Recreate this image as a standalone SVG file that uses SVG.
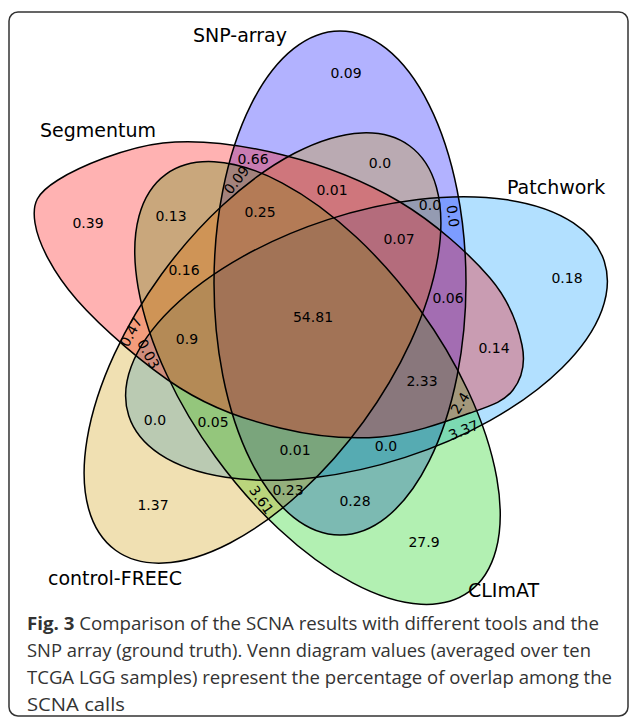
<svg xmlns="http://www.w3.org/2000/svg" xmlns:xlink="http://www.w3.org/1999/xlink" width="630" height="724" viewBox="0 0 630 724">
<style>
.set{stroke:none;fill-opacity:0.3}
.out{fill:none;stroke:#000;stroke-width:1.5}
.lab{font-family:"DejaVu Sans",Verdana,sans-serif;font-size:19px;fill:#000}
.v{font-family:"DejaVu Sans",Verdana,sans-serif;font-size:14px;fill:#000;text-anchor:middle}
.cap{font-family:"Open Sans","Noto Sans",sans-serif;font-size:18px;fill:#333}
</style>
<defs>
<ellipse id="eL" cx="0" cy="0" rx="250" ry="125" transform="translate(366.5 338.5) rotate(-18)"/>
<ellipse id="eB" cx="340" cy="283" rx="126" ry="252"/>
<ellipse id="eG" cx="0" cy="0" rx="258" ry="126" transform="translate(317.5 383) rotate(54)"/>
<ellipse id="eY" cx="0" cy="0" rx="250" ry="125" transform="translate(262.5 348) rotate(126)"/>
<path id="eP" d="M35,223 C38.17,243 52.83,272.5 77,300 C101.17,327.5 146.17,366.67 180,388 C213.83,409.33 246.67,419.83 280,428 C313.33,436.17 348.33,439.5 380,437 C411.67,434.5 447.83,420.83 470,413 C492.17,405.17 504.33,401.33 513,390 C521.67,378.67 525.83,363.67 522,345 C518.17,326.33 510.33,301.83 490,278 C469.67,254.17 434.5,222.5 400,202 C365.5,181.5 322.5,164.83 283,155 C243.5,145.17 200.5,138.83 163,143 C125.5,147.17 79.33,166.67 58,180 C36.67,193.33 31.83,203 35,223 Z"/>
</defs>
<rect x="9" y="12" width="619" height="704" rx="9" fill="#fff" stroke="#333" stroke-width="1.5"/>
<g id="patchwork">
<use xlink:href="#eL" class="set" fill="#0099ff"/>
<text class="lab" x="507" y="194">Patchwork</text>
</g>
<g id="snp-array">
<use xlink:href="#eB" class="set" fill="#0000ff"/>
<text class="lab" x="193" y="42">SNP-array</text>
</g>
<g id="climat">
<use xlink:href="#eG" class="set" fill="#00cc00"/>
<text class="lab" x="468" y="597">CLImAT</text>
</g>
<g id="control-freec">
<use xlink:href="#eY" class="set" fill="#cc9900"/>
<text class="lab" x="48" y="585">control-FREEC</text>
</g>
<g id="segmentum">
<use xlink:href="#eP" class="set" fill="#ff0000"/>
<text class="lab" x="40" y="137">Segmentum</text>
</g>
<g id="outlines">
<use xlink:href="#eL" class="out"/>
<use xlink:href="#eB" class="out"/>
<use xlink:href="#eG" class="out"/>
<use xlink:href="#eY" class="out"/>
<use xlink:href="#eP" class="out"/>
</g>
<g id="values">
<text class="v" x="346" y="78">0.09</text>
<text class="v" x="253" y="164">0.66</text>
<text class="v" x="380" y="168">0.0</text>
<text class="v" transform="translate(236.5 180) rotate(-52)" y="5">0.09</text>
<text class="v" x="332" y="195">0.01</text>
<text class="v" x="88" y="228">0.39</text>
<text class="v" x="171" y="221">0.13</text>
<text class="v" x="260" y="217">0.25</text>
<text class="v" x="430" y="210">0.0</text>
<text class="v" transform="translate(453 216) rotate(82)" y="5">0.0</text>
<text class="v" x="399" y="244">0.07</text>
<text class="v" x="567" y="283">0.18</text>
<text class="v" x="184" y="275">0.16</text>
<text class="v" x="313" y="322">54.81</text>
<text class="v" x="448" y="303">0.06</text>
<text class="v" transform="translate(131 332) rotate(-62)" y="5">0.47</text>
<text class="v" transform="translate(148.5 354) rotate(62)" y="5">0.03</text>
<text class="v" x="187" y="344">0.9</text>
<text class="v" x="494" y="353">0.14</text>
<text class="v" x="422" y="386">2.33</text>
<text class="v" transform="translate(460 403) rotate(-58)" y="5">2.4</text>
<text class="v" transform="translate(463.5 430) rotate(-22)" y="5">3.37</text>
<text class="v" x="155" y="425">0.0</text>
<text class="v" x="213" y="427">0.05</text>
<text class="v" x="295" y="455">0.01</text>
<text class="v" x="386" y="451">0.0</text>
<text class="v" x="288" y="495">0.23</text>
<text class="v" transform="translate(261.5 500) rotate(55)" y="5">3.61</text>
<text class="v" x="355" y="506">0.28</text>
<text class="v" x="153" y="510">1.37</text>
<text class="v" x="424" y="547">27.9</text>
</g>
<g id="caption" class="cap">
<text x="27" y="630" textLength="572" lengthAdjust="spacingAndGlyphs"><tspan font-weight="bold">Fig. 3</tspan> Comparison of the SCNA results with different tools and the</text>
<text x="27" y="657" textLength="564" lengthAdjust="spacingAndGlyphs">SNP array (ground truth). Venn diagram values (averaged over ten</text>
<text x="27" y="684" textLength="585" lengthAdjust="spacingAndGlyphs">TCGA LGG samples) represent the percentage of overlap among the</text>
<text x="27" y="711" textLength="98" lengthAdjust="spacingAndGlyphs">SCNA calls</text>
</g>
</svg>
